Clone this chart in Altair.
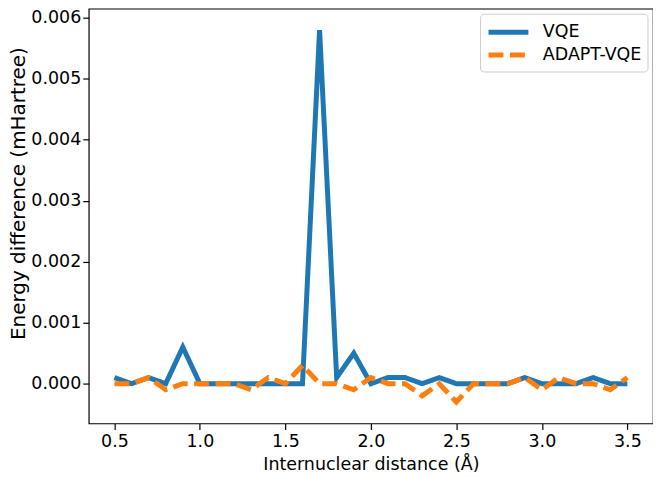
import altair as alt
import pandas as pd

distance = [0.5, 0.6, 0.7, 0.8, 0.9, 1.0, 1.1, 1.2, 1.3, 1.4, 1.5, 1.6, 1.7, 1.8, 1.9, 2.0,
            2.1, 2.2, 2.3, 2.4, 2.5, 2.6, 2.7, 2.8, 2.9, 3.0, 3.1, 3.2, 3.3, 3.4, 3.5]
vqe = [0.0001, 0.0, 0.0001, 0.0, 0.0006, 0.0, 0.0, 0.0, 0.0, 0.0, 0.0, 0.0, 0.0058, 0.0001,
       0.0005, 0.0, 0.0001, 0.0001, 0.0, 0.0001, 0.0, 0.0, 0.0, 0.0, 0.0001, 0.0, 0.0, 0.0,
       0.0001, 0.0, 0.0]
adapt_vqe = [0.0, 0.0, 0.0001, -0.0001, 0.0, 0.0, 0.0, 0.0, -0.0001, 0.0001, 0.0, 0.0003,
             0.0, 0.0, -0.0001, 0.0001, 0.0, 0.0, -0.0002, 0.0, -0.0003, 0.0, 0.0, 0.0,
             0.0001, -0.0001, 0.0001, 0.0, 0.0, -0.0001, 0.0001]
series_names = ["VQE", "ADAPT-VQE"]
series_colors = ["#1f77b4", "#ff7f0e"]
x_ticks = [0.5, 1.0, 1.5, 2.0, 2.5, 3.0, 3.5]
y_ticks = [0.0, 0.001, 0.002, 0.003, 0.004, 0.005, 0.006]

rows = []
for i, d in enumerate(distance):
    rows.append({"x": d, "y": vqe[i], "series": "VQE", "order": 0})
for i, d in enumerate(distance):
    rows.append({"x": d, "y": adapt_vqe[i], "series": "ADAPT-VQE", "order": 1})
df = pd.DataFrame(rows)

FONT = "DejaVu Sans"
FS = 17.5

chart = alt.Chart(df).mark_line(strokeWidth=5, strokeCap="butt", strokeJoin="miter").encode(
    x=alt.X("x:Q", title="Internuclear distance (Å)",
            scale=alt.Scale(domain=[0.35, 3.65], nice=False, zero=False),
            axis=alt.Axis(values=x_ticks, format=".1f", labelPadding=3, titlePadding=6)),
    y=alt.Y("y:Q", title="Energy difference (mHartree)",
            scale=alt.Scale(domain=[-0.000652, 0.00615], nice=False, zero=False),
            axis=alt.Axis(values=y_ticks, format=".3f", labelPadding=2,
                          titleFontSize=20, titleY=185, titleX=-70,
                          titleBaseline="middle", titleAlign="center")),
    color=alt.Color("series:N", sort=series_names,
                    scale=alt.Scale(domain=series_names, range=series_colors),
                    legend=alt.Legend(title=None, orient="none", legendX=392.5, legendY=5,
                                      symbolType="M-1,0H3", symbolSize=400,
                                      symbolStrokeWidth=5, labelFontSize=FS, labelFont=FONT,
                                      labelColor="#000000", labelOffset=32, rowPadding=-1,
                                      padding=6, strokeColor="#cccccc", fillColor="#ffffff",
                                      cornerRadius=4)),
    strokeDash=alt.StrokeDash("series:N", sort=series_names,
                              scale=alt.Scale(domain=series_names, range=[[1, 0], [15, 6.5]]),
                              legend=None),
    detail="series:N",
    order="order:Q",
).properties(
    width=566, height=416,
    autosize=alt.AutoSizeParams(type="none"),
    padding={"left": 81, "top": 0, "right": 0, "bottom": 54},
).configure_view(
    stroke="#000000", strokeWidth=1.2
).configure_axis(
    grid=False, domain=False, tickColor="#000000", tickSize=6, tickWidth=1.2,
    labelFont=FONT, labelFontSize=FS, labelColor="#000000",
    titleFont=FONT, titleFontSize=FS, titleFontWeight="normal", titleColor="#000000",
)

chart.save("out.html", embed_options={"renderer": "svg", "actions": False})
